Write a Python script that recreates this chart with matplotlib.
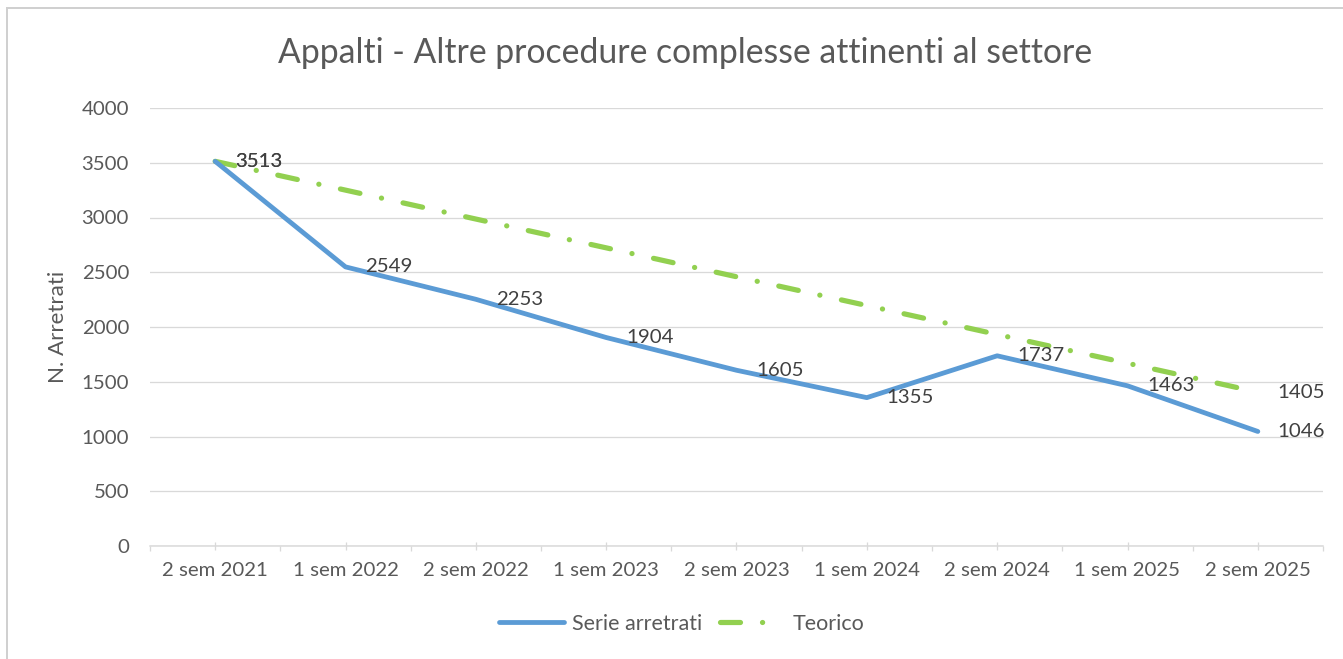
import matplotlib
matplotlib.use("Agg")
import matplotlib.pyplot as plt
from matplotlib.patches import Rectangle
from matplotlib.ticker import FixedLocator

categories = ["2 sem 2021", "1 sem 2022", "2 sem 2022", "1 sem 2023", "2 sem 2023",
              "1 sem 2024", "2 sem 2024", "1 sem 2025", "2 sem 2025"]
serie_arretrati = [3513, 2549, 2253, 1904, 1605, 1355, 1737, 1463, 1046]
teorico = [3513, 3250, 2986, 2723, 2459, 2196, 1932, 1669, 1405]
teorico_labelled = [0, 8]
y_ticks = [0, 500, 1000, 1500, 2000, 2500, 3000, 3500, 4000]

title = "Appalti - Altre procedure complesse attinenti al settore"
y_label = "N. Arretrati"
legend_labels = ["Serie arretrati", "Teorico"]

W, H, DPI = 1343, 659, 100
FONT = "Lato"
plt.rcParams["font.family"] = [FONT, "DejaVu Sans"]
plt.rcParams["lines.scale_dashes"] = False

fig = plt.figure(figsize=(W / DPI, H / DPI), dpi=DPI)
renderer = fig.canvas.get_renderer()

def fit(text, target_px):
    t = fig.text(0, 0, text, fontsize=10)
    w = t.get_window_extent(renderer).width
    t.remove()
    return 10 * target_px / w

fs_tick = fit("2 sem 2021", 106)
fs_title = fit(title, 816)
fs_leg = fit("Serie arretrati", 130)
fs_ylab = fit(y_label, 112)

px = 72 / DPI  # points per pixel

ax = fig.add_axes([150 / W, (H - 546) / H, (1323 - 150) / W, (546 - 108) / H])

blue = "#5B9BD5"
green = "#92D050"
ax.plot(categories, serie_arretrati, color=blue, lw=4.8 * px, solid_capstyle="round",
        solid_joinstyle="round", label=legend_labels[0], zorder=3)
ax.plot(categories, teorico, color=green, lw=5.2 * px, dash_capstyle="round",
        dashes=(20 * px, 22 * px, 0.1, 22 * px), label=legend_labels[1], zorder=2)

ax.set_xlim(-0.5, len(categories) - 0.5)
ax.set_ylim(0, 4000)
ax.set_yticks(y_ticks)
ax.yaxis.set_major_formatter(matplotlib.ticker.FuncFormatter(lambda v, p: f"{int(v)}"))
ax.grid(axis="y", color="#d9d9d9", lw=1.3 * px)
ax.set_axisbelow(True)
for s in ["top", "right", "left"]:
    ax.spines[s].set_visible(False)
ax.spines["bottom"].set_color("#d9d9d9")
ax.spines["bottom"].set_linewidth(1.5 * px)

ax.xaxis.set_minor_locator(FixedLocator([i - 0.5 for i in range(len(categories) + 1)]))
ax.tick_params(axis="x", which="major", direction="inout", length=8 * px, width=1.3 * px,
               color="#d9d9d9", labelsize=fs_tick, labelcolor="#595959", pad=12 * px)
ax.tick_params(axis="x", which="minor", direction="out", length=5 * px, width=1.3 * px,
               color="#d9d9d9")
ax.tick_params(axis="y", length=0, labelsize=fs_tick, labelcolor="#595959", pad=21 * px)

ax.set_ylabel(y_label, fontsize=fs_ylab, color="#595959")
ax.yaxis.set_label_coords((68 - 150) / (1323 - 150), 0.5)

for i, v in enumerate(serie_arretrati):
    ax.annotate(str(v), (categories[i], v), xytext=(20, 0), textcoords="offset pixels",
                va="center", ha="left", fontsize=fs_tick, color="#404040", zorder=5)
for i in teorico_labelled:
    ax.annotate(str(teorico[i]), (categories[i], teorico[i]), xytext=(20, 0),
                textcoords="offset pixels", va="center", ha="left", fontsize=fs_tick,
                color="#404040", zorder=5)

fig.text(685 / W, 1 - 53 / H, title, fontsize=fs_title, color="#595959",
         ha="center", va="center")

leg = fig.legend(loc="center", bbox_to_anchor=(682 / W, 1 - 624 / H), ncol=2,
                 frameon=False, fontsize=fs_leg, labelcolor="#595959",
                 handlelength=3.0, handletextpad=0.4, columnspacing=0.8)

fig.add_artist(Rectangle((7 / W, -0.1), 1.2, 1 - 8 / H + 0.1, transform=fig.transFigure,
                         fill=False, edgecolor="#d0d0d0", lw=2 * px, clip_on=False))

fig.savefig("out.png", dpi=DPI)
